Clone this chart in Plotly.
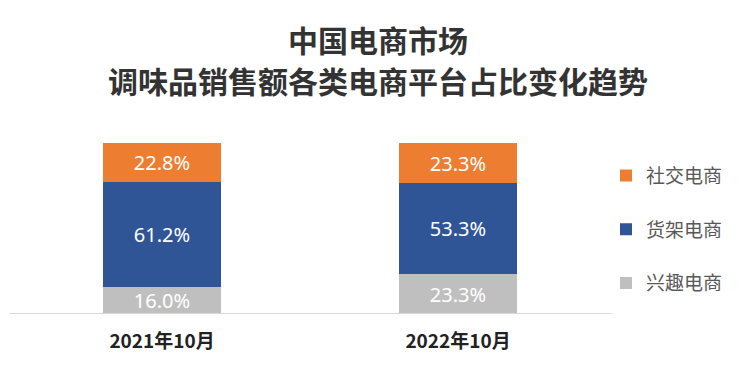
import plotly.graph_objects as go

categories = ["2021年10月", "2022年10月"]
series_names = ["兴趣电商", "货架电商", "社交电商"]
interest = [16.0, 23.3]
shelf = [61.2, 53.3]
social = [22.8, 23.3]
colors = ["#BFBFBF", "#2F5597", "#ED7D31"]
legend_ranks = [3, 2, 1]
title_lines = ["中国电商市场", "调味品销售额各类电商平台占比变化趋势"]

FONT = "Noto Sans CJK SC"
fig = go.Figure()
for name, vals, col, rk in zip(series_names, [interest, shelf, social], colors, legend_ranks):
    fig.add_trace(go.Bar(
        x=categories, y=vals, name=name, legendgroup=name, legendrank=rk,
        marker=dict(color=col, line=dict(width=0)),
        text=[f"{v:.1f}%" for v in vals],
        textposition="inside", insidetextanchor="middle", constraintext="none",
        textfont=dict(color="white", size=20, family="Noto Sans"),
        width=0.4, hoverinfo="skip",
    ))

# title as two centred lines
for txt, yy in zip(title_lines, [1.61, 1.368]):
    fig.add_annotation(
        text=txt, xref="paper", yref="paper", x=0.615, y=yy,
        xanchor="center", yanchor="middle", showarrow=False,
        font=dict(family=FONT, size=30, color="#333333", weight="bold"),
    )

# baseline slightly wider than plot area
fig.add_shape(type="line", xref="paper", yref="y", x0=-0.008, x1=1.01, y0=0, y1=0,
              line=dict(color="#D9D9D9", width=2), layer="above")

fig.update_layout(
    barmode="stack",
    width=755, height=365,
    margin=dict(l=6, r=157, t=135, b=59),
    paper_bgcolor="white", plot_bgcolor="white",
    uniformtext=dict(mode=False),
    xaxis=dict(
        range=[-0.5, 1.5], showline=False,
        ticks="", tickfont=dict(family=FONT, size=19, color="#222222", weight="bold"),
        ticklabelstandoff=14,
        showgrid=False, fixedrange=True, zeroline=False,
    ),
    yaxis=dict(range=[0, 100], visible=False, showgrid=False, fixedrange=True),
    legend=dict(
        x=1.0, xanchor="left", y=0.92, yanchor="top",
        traceorder="grouped", tracegroupgap=26,
        font=dict(family=FONT, size=19, color="#595959"),
        itemwidth=30, bgcolor="rgba(0,0,0,0)",
    ),
    showlegend=True,
)

fig.write_html("out.html")
